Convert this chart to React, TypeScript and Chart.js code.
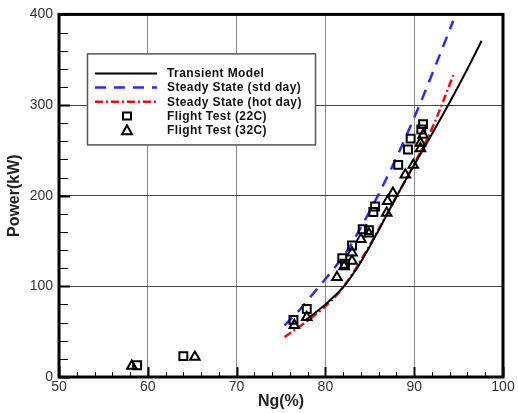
import React, { useEffect, useRef } from "react";
import { Chart, registerables } from "chart.js";
Chart.register(...registerables);

// ---- data ----
const transientNg = [77.8, 79, 80, 81, 82, 83, 84, 86, 88, 90, 92, 94, 96, 97.6];
const transientPw = [63, 72, 80, 89, 99, 112, 127, 162, 199, 234, 268, 303, 340, 371];

const stdDayNg = [75.4, 77, 79.3, 81, 82.5, 84, 85.8, 88, 90.6, 92.5, 94.4];
const stdDayPw = [57, 73, 100, 120, 140, 165, 198, 242, 300, 346, 393];

const hotDayNg = [75.4, 77, 78.5, 80, 81.5, 83, 84.5, 86, 88, 90, 92, 93.1, 94.4];
const hotDayPw = [44, 55, 66, 78, 93, 113, 137, 163, 199, 235, 274, 300, 333];

const ft22Ng = [58.8, 64.0, 76.4, 77.9, 81.9, 82.2, 83.0, 84.2, 84.9, 85.4, 85.6, 88.2, 89.3, 89.6, 90.8, 91.0];
const ft22Pw = [13, 23, 63, 75, 131, 125, 145, 163, 162, 182, 188, 234, 251, 263, 273, 279];

const ft32Ng = [58.2, 65.3, 76.5, 77.9, 81.3, 82.1, 83.0, 83.0, 84.0, 84.9, 86.9, 87.0, 87.6, 89.0, 89.9, 90.7, 90.7, 91.0];
const ft32Pw = [12, 22, 57, 66, 110, 122, 128, 137, 152, 158, 181, 194, 203, 223, 234, 252, 258, 267];

const xMin = 50, xMax = 100, xStep = 10, xMinor = 2;
const yMin = 0, yMax = 400, yStep = 100, yMinor = 20;

const labels = [
  "Transient Model",
  "Steady State (std day)",
  "Steady State (hot day)",
  "Flight Test (22C)",
  "Flight Test (32C)",
];

const pts = (xs: number[], ys: number[]) => xs.map((x, i) => ({ x, y: ys[i] }));

export default function App() {
  const ref = useRef<HTMLCanvasElement>(null);

  useEffect(() => {
    const canvas = ref.current;
    if (!canvas) return;

    const blue = "#2b2bff";
    const red = "#e01010";
    const blueDash = [11, 8];
    const redDash = [8, 3, 2, 3];

    const decorPlugin = {
      id: "decor",
      afterDatasetsDraw(chart: any) {
        const ctx = chart.ctx;
        const ca = chart.chartArea;
        // legend box
        const bx = ca.left + 28, by = ca.top + 39, bw = 228, bh = 91;
        ctx.save();
        ctx.fillStyle = "#ffffff";
        ctx.fillRect(bx, by, bw, bh);
        ctx.strokeStyle = "#555";
        ctx.lineWidth = 1.5;
        ctx.strokeRect(bx + 0.5, by + 0.5, bw, bh);
        const rowY = (i: number) => by + 20 + i * 14.2;
        const lx0 = bx + 8, lx1 = bx + 70, mx = bx + 40, tx = bx + 80;
        const lineSample = (i: number, color: string, dash: number[], w: number) => {
          ctx.save();
          ctx.strokeStyle = color;
          ctx.lineWidth = w;
          ctx.setLineDash(dash);
          ctx.beginPath();
          ctx.moveTo(lx0, rowY(i));
          ctx.lineTo(lx1, rowY(i));
          ctx.stroke();
          ctx.restore();
        };
        lineSample(0, "#000", [], 2);
        lineSample(1, blue, blueDash, 2.5);
        lineSample(2, red, redDash, 2.5);
        ctx.strokeStyle = "#000";
        ctx.lineWidth = 2;
        ctx.setLineDash([]);
        ctx.strokeRect(mx - 4, rowY(3) - 3.5, 8, 7);
        ctx.beginPath();
        ctx.moveTo(mx - 5, rowY(4) + 4);
        ctx.lineTo(mx + 5, rowY(4) + 4);
        ctx.lineTo(mx, rowY(4) - 5);
        ctx.closePath();
        ctx.stroke();
        ctx.fillStyle = "#111";
        ctx.font = "bold 12px 'Liberation Sans', Arial, sans-serif";
        try { (ctx as any).letterSpacing = "0.4px"; } catch (e) {}
        ctx.textBaseline = "middle";
        ctx.textAlign = "left";
        labels.forEach((t, i) => ctx.fillText(t, tx, rowY(i) + 0.5));
        ctx.restore();
      },
      afterDraw(chart: any) {
        const ctx = chart.ctx;
        const ca = chart.chartArea;
        const xs = chart.scales.x;
        const ys = chart.scales.y;
        ctx.save();
        ctx.strokeStyle = "#000";
        for (let v = yMin; v <= yMax; v += yMinor) {
          const major = v % yStep === 0;
          const py = Math.round(ys.getPixelForValue(v)) + 0.5;
          ctx.lineWidth = major ? 2 : 1;
          ctx.beginPath();
          ctx.moveTo(ca.left, py);
          ctx.lineTo(ca.left + (major ? 11 : 9), py);
          ctx.stroke();
        }
        for (let v = xMin; v <= xMax; v += xMinor) {
          const major = v % xStep === 0;
          const px = Math.round(xs.getPixelForValue(v)) + 0.5;
          ctx.lineWidth = major ? 2 : 1;
          ctx.beginPath();
          ctx.moveTo(px, ca.bottom);
          ctx.lineTo(px, ca.bottom - (major ? 10 : 5));
          ctx.stroke();
        }
        ctx.lineWidth = 3;
        ctx.strokeRect(ca.left, ca.top, ca.right - ca.left, ca.bottom - ca.top);
        ctx.restore();
      },
    };

    const chart = new Chart(canvas, {
      type: "scatter",
      data: {
        datasets: [
          {
            label: labels[3],
            data: pts(ft22Ng, ft22Pw),
            pointStyle: "rect",
            pointRadius: 5.6,
            borderColor: "#000",
            backgroundColor: "rgba(0,0,0,0)",
            pointBorderWidth: 2,
            showLine: false,
            order: 0,
          } as any,
          {
            label: labels[4],
            data: pts(ft32Ng, ft32Pw),
            pointStyle: "triangle",
            pointRadius: 5.5,
            borderColor: "#000",
            backgroundColor: "rgba(0,0,0,0)",
            pointBorderWidth: 2,
            showLine: false,
            order: 0,
          },
          {
            label: labels[0],
            data: pts(transientNg, transientPw),
            showLine: true,
            borderColor: "#000",
            borderWidth: 2,
            pointRadius: 0,
            cubicInterpolationMode: "monotone",
            order: 1,
          },
          {
            label: labels[1],
            data: pts(stdDayNg, stdDayPw),
            showLine: true,
            borderColor: blue,
            borderWidth: 2.5,
            borderDash: blueDash,
            pointRadius: 0,
            cubicInterpolationMode: "monotone",
            order: 1,
          },
          {
            label: labels[2],
            data: pts(hotDayNg, hotDayPw),
            showLine: true,
            borderColor: red,
            borderWidth: 2.5,
            borderDash: redDash,
            pointRadius: 0,
            cubicInterpolationMode: "monotone",
            order: 1,
          },
        ],
      },
      options: {
        animation: false,
        responsive: false,
        maintainAspectRatio: false,
        layout: { padding: { top: 12, right: 15, left: 0, bottom: 0 } },
        plugins: { legend: { display: false }, tooltip: { enabled: false } },
        scales: {
          x: {
            type: "linear",
            min: xMin,
            max: xMax,
            ticks: {
              stepSize: xStep,
              color: "#333",
              font: { family: "'Liberation Sans', Arial, sans-serif", size: 14 },
              padding: 2,
            },
            grid: { color: "#8a8a8a", lineWidth: 1, drawTicks: false },
            border: { display: false },
            title: {
              display: true,
              text: "Ng(%)",
              color: "#222",
              font: { family: "'Liberation Sans', Arial, sans-serif", size: 16, weight: "bold" },
              padding: { top: 0, bottom: 2 },
            },
            afterFit: (s: any) => {
              s.height = 36;
            },
          },
          y: {
            type: "linear",
            min: yMin,
            max: yMax,
            ticks: {
              stepSize: yStep,
              color: "#333",
              font: { family: "'Liberation Sans', Arial, sans-serif", size: 14 },
              padding: 6,
            },
            grid: { color: "#444", lineWidth: 1, drawTicks: false },
            border: { display: false },
            title: {
              display: true,
              text: "Power(kW)",
              color: "#222",
              font: { family: "'Liberation Sans', Arial, sans-serif", size: 16, weight: "bold" },
              padding: { top: 5, bottom: 0 },
            },
            afterFit: (s: any) => {
              s.width = 59;
            },
          },
        },
      },
      plugins: [decorPlugin],
    });

    return () => chart.destroy();
  }, []);

  return (
    <div style={{ position: "absolute", left: 0, top: 0, width: 518, height: 413, background: "#fff" }}>
      <canvas ref={ref} width={518} height={413} style={{ width: 518, height: 413, display: "block" }} />
    </div>
  );
}
